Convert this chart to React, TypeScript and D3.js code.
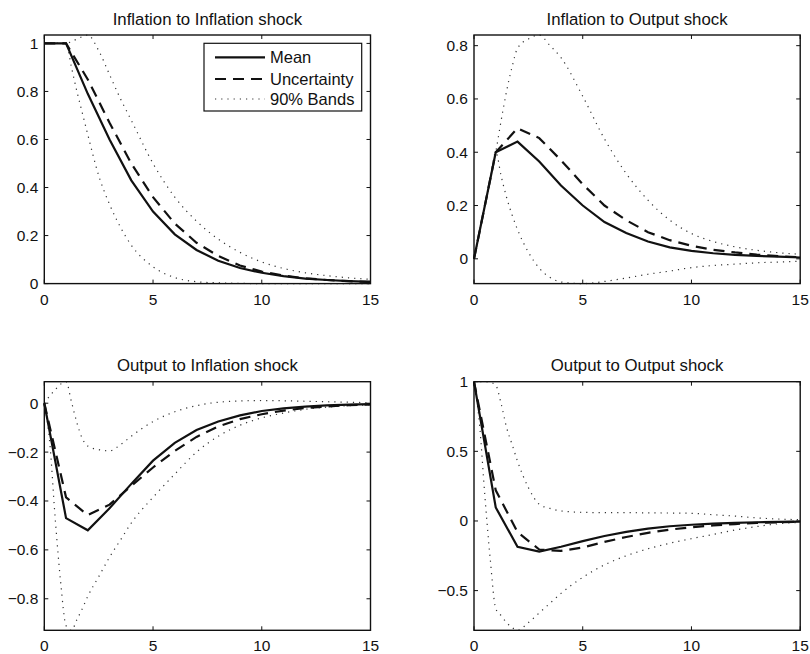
import React from 'react';
import * as d3 from 'd3';

// horizon (periods)
const steps = [0, 1, 2, 3, 4, 5, 6, 7, 8, 9, 10, 11, 12, 13, 14, 15];
// grid on which the 90% bands are read
const bandSteps = [0, 0.25, 0.5, 0.75, 1, 1.25, 1.5, 1.75, 2, 2.5, 3, 3.5, 4, 5, 6, 7, 8, 9, 10, 11, 12, 13, 14, 15];

// Inflation to Inflation shock
const infInfMean = [1, 1, 0.79, 0.6, 0.43, 0.3, 0.205, 0.14, 0.095, 0.065, 0.045, 0.031, 0.021, 0.015, 0.01, 0.007];
const infInfUnc = [1, 1, 0.85, 0.67, 0.5, 0.36, 0.25, 0.17, 0.115, 0.075, 0.05, 0.033, 0.022, 0.015, 0.01, 0.007];
const infInfUpper = [1, 1, 1, 1, 1, 1.008, 1.018, 1.028, 1.035, 0.97, 0.87, 0.77, 0.68, 0.5, 0.36, 0.26, 0.185, 0.13, 0.09, 0.063, 0.045, 0.033, 0.024, 0.018];
const infInfLower = [1, 1, 1, 1, 1, 0.9, 0.8, 0.71, 0.62, 0.45, 0.33, 0.235, 0.16, 0.07, 0.025, 0.008, 0.003, 0.001, 0, 0, 0, 0, 0, 0];

// Inflation to Output shock
const infOutMean = [0, 0.4, 0.44, 0.365, 0.275, 0.2, 0.138, 0.097, 0.065, 0.043, 0.03, 0.021, 0.015, 0.011, 0.008, 0.005];
const infOutUnc = [0, 0.4, 0.49, 0.453, 0.37, 0.28, 0.2, 0.145, 0.1, 0.07, 0.049, 0.034, 0.024, 0.016, 0.01, 0.006];
const infOutUpper = [0, 0.1, 0.2, 0.3, 0.4, 0.52, 0.63, 0.72, 0.79, 0.825, 0.84, 0.8, 0.755, 0.61, 0.45, 0.32, 0.22, 0.145, 0.095, 0.065, 0.045, 0.032, 0.023, 0.017];
const infOutLower = [0, 0.1, 0.2, 0.3, 0.4, 0.31, 0.23, 0.165, 0.11, 0.025, -0.035, -0.07, -0.087, -0.093, -0.085, -0.072, -0.058, -0.046, -0.033, -0.025, -0.02, -0.015, -0.012, -0.009];

// Output to Inflation shock
const outInfMean = [0, -0.47, -0.52, -0.43, -0.33, -0.235, -0.162, -0.11, -0.075, -0.05, -0.032, -0.021, -0.014, -0.009, -0.006, -0.004];
const outInfUnc = [0, -0.385, -0.458, -0.415, -0.338, -0.263, -0.195, -0.138, -0.095, -0.065, -0.045, -0.03, -0.02, -0.013, -0.008, -0.005];
const outInfUpper = [0, 0.03, 0.055, 0.078, 0.088, 0.005, -0.08, -0.145, -0.175, -0.19, -0.195, -0.17, -0.135, -0.075, -0.035, -0.01, 0.004, 0.009, 0.011, 0.01, 0.008, 0.006, 0.004, 0.002];
const outInfLower = [0, -0.16, -0.47, -0.73, -0.91, -0.929, -0.885, -0.84, -0.79, -0.71, -0.63, -0.56, -0.49, -0.385, -0.29, -0.2, -0.135, -0.09, -0.06, -0.04, -0.025, -0.016, -0.01, -0.007];

// Output to Output shock
const outOutMean = [1, 0.097, -0.185, -0.22, -0.185, -0.145, -0.108, -0.078, -0.055, -0.038, -0.027, -0.019, -0.013, -0.009, -0.006, -0.004];
const outOutUnc = [1, 0.22, -0.08, -0.205, -0.215, -0.19, -0.15, -0.115, -0.085, -0.062, -0.045, -0.032, -0.022, -0.014, -0.009, -0.005];
const outOutUpper = [1, 1, 1, 0.995, 0.975, 0.84, 0.67, 0.55, 0.43, 0.24, 0.12, 0.09, 0.072, 0.062, 0.06, 0.06, 0.058, 0.057, 0.055, 0.045, 0.035, 0.022, 0.014, 0.009];
const outOutLower = [1, 0.7, 0.18, -0.28, -0.63, -0.68, -0.73, -0.765, -0.785, -0.73, -0.66, -0.59, -0.52, -0.405, -0.315, -0.25, -0.2, -0.16, -0.127, -0.097, -0.065, -0.04, -0.02, -0.01];

// tick values
const xTicks = [0, 5, 10, 15];
const infInfTicks = [0, 0.2, 0.4, 0.6, 0.8, 1];
const infOutTicks = [0, 0.2, 0.4, 0.6, 0.8];
const outInfTicks = [-0.8, -0.6, -0.4, -0.2, 0];
const outOutTicks = [-0.5, 0, 0.5, 1];

const titles = ['Inflation to Inflation shock', 'Inflation to Output shock', 'Output to Inflation shock', 'Output to Output shock'];
const legendLabels = ['Mean', 'Uncertainty', '90% Bands'];

const panels = [
  { title: titles[0], mean: infInfMean, unc: infInfUnc, upper: infInfUpper, lower: infInfLower, yTicks: infInfTicks, col: 0, row: 0, legend: true },
  { title: titles[1], mean: infOutMean, unc: infOutUnc, upper: infOutUpper, lower: infOutLower, yTicks: infOutTicks, col: 1, row: 0, legend: false },
  { title: titles[2], mean: outInfMean, unc: outInfUnc, upper: outInfUpper, lower: outInfLower, yTicks: outInfTicks, col: 0, row: 1, legend: false },
  { title: titles[3], mean: outOutMean, unc: outOutUnc, upper: outOutUpper, lower: outOutLower, yTicks: outOutTicks, col: 1, row: 1, legend: false },
];

const W = 810;
const H = 654;
const colX = [44.3, 474];
const rowY = [35, 381.7];
const PW = 326.2;
const PH = 248.6;
const FONT = "'Liberation Sans', Arial, Helvetica, sans-serif";
const TICK = 4;

const fmt = (v: number) => {
  const s = d3.format('~g')(Math.round(v * 1000) / 1000);
  return s.replace('-', '\u2212');
};

function Panel({ p }: { p: any }) {
  const x0 = colX[p.col];
  const y0 = rowY[p.row];
  const x = d3.scaleLinear().domain([0, 15]).range([x0, x0 + PW]);
  const all = [...p.mean, ...p.unc, ...p.upper, ...p.lower];
  const ext = d3.extent(all) as [number, number];
  const y = d3.scaleLinear().domain(ext).range([y0 + PH, y0]);

  const line = d3.line<number>().x((_, i) => x(steps[i])).y((d) => y(d));
  const band = d3
    .line<number>()
    .x((_, i) => x(bandSteps[i]))
    .y((d) => y(d))
    .curve(d3.curveMonotoneX);

  const bottom = y0 + PH;
  const right = x0 + PW;

  return (
    <g>
      <text x={x0 + PW / 2} y={y0 - 10.5} textAnchor="middle" fontSize={16.8} fill="#111">
        {p.title}
      </text>
      <path d={band(p.upper) || ''} fill="none" stroke="#333" strokeWidth={1.2} strokeDasharray="1.2,5" />
      <path d={band(p.lower) || ''} fill="none" stroke="#333" strokeWidth={1.2} strokeDasharray="1.2,5" />
      <path d={line(p.unc) || ''} fill="none" stroke="#111" strokeWidth={2.2} strokeDasharray="11,7" />
      <path d={line(p.mean) || ''} fill="none" stroke="#111" strokeWidth={2.2} />
      <rect x={x0} y={y0} width={PW} height={PH} fill="none" stroke="#111" strokeWidth={1.4} />
      {xTicks.map((t) => (
        <g key={'x' + t}>
          <line x1={x(t)} x2={x(t)} y1={bottom} y2={bottom - TICK} stroke="#111" strokeWidth={1} />
          <line x1={x(t)} x2={x(t)} y1={y0} y2={y0 + TICK} stroke="#111" strokeWidth={1} />
          <text x={x(t)} y={bottom + 21} textAnchor="middle" fontSize={15.5} fill="#111">
            {fmt(t)}
          </text>
        </g>
      ))}
      {p.yTicks.map((t: number) => (
        <g key={'y' + t}>
          <line x1={x0} x2={x0 + TICK} y1={y(t)} y2={y(t)} stroke="#111" strokeWidth={1} />
          <line x1={right} x2={right - TICK} y1={y(t)} y2={y(t)} stroke="#111" strokeWidth={1} />
          <text x={x0 - 6} y={y(t) + 5.5} textAnchor="end" fontSize={15.5} fill="#111">
            {fmt(t)}
          </text>
        </g>
      ))}
      {p.legend && <Legend x={204} y={43.3} />}
    </g>
  );
}

function Legend({ x, y }: { x: number; y: number }) {
  const rows = [14, 35.7, 55.7];
  const styles = [
    { dash: undefined, w: 2.2, c: '#111' },
    { dash: '11,7', w: 2.2, c: '#111' },
    { dash: '1.2,5', w: 1.2, c: '#333' },
  ];
  return (
    <g>
      <rect x={x} y={y} width={157.7} height={67.7} fill="#fff" stroke="#111" strokeWidth={1.2} />
      {legendLabels.map((lab, i) => (
        <g key={lab}>
          <line x1={x + 11} x2={x + 61} y1={y + rows[i]} y2={y + rows[i]} stroke={styles[i].c} strokeWidth={styles[i].w} strokeDasharray={styles[i].dash} />
          <text x={x + 66} y={y + rows[i] + 5.8} fontSize={16.5} fill="#111">
            {lab}
          </text>
        </g>
      ))}
    </g>
  );
}

export default function App() {
  return (
    <svg width={W} height={H} style={{ position: 'absolute', left: 0, top: 0, background: '#fff' }} fontFamily={FONT}>
      <rect x={0} y={0} width={W} height={H} fill="#fff" />
      {panels.map((p) => (
        <Panel key={p.title} p={p} />
      ))}
    </svg>
  );
}
